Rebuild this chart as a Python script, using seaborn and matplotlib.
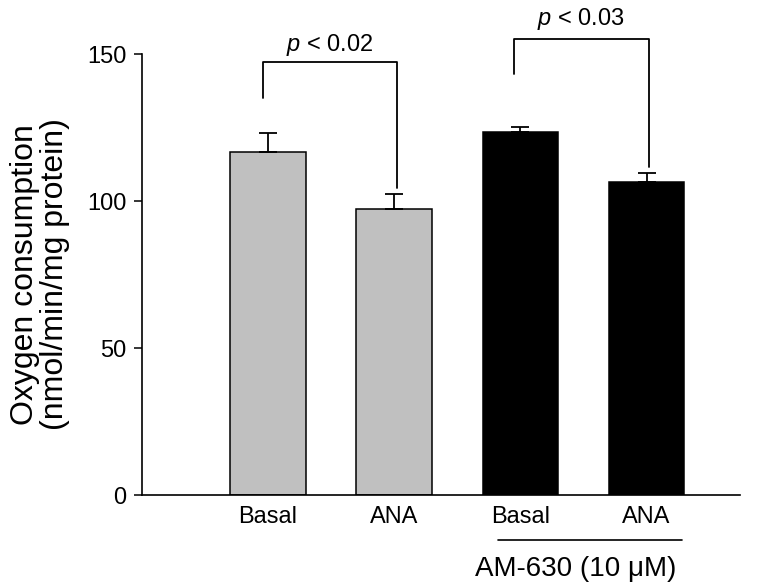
import matplotlib
matplotlib.use("Agg")
import matplotlib.pyplot as plt
import seaborn as sns
import pandas as pd

# ---- data ----
groups = ["Basal", "ANA", "Basal (AM-630)", "ANA (AM-630)"]
tick_labels = ["Basal", "ANA", "Basal", "ANA"]
means = [116.6, 97.4, 123.4, 106.5]
sems = [6.4, 5.0, 1.9, 2.9]
treatment = ["none", "none", "AM-630", "AM-630"]
y_ticks = [0, 50, 100, 150]
p_labels = ["0.02", "0.03"]

df = pd.DataFrame({"group": groups, "value": means, "treat": treatment})

sns.set_style("ticks")
plt.rcParams["font.family"] = ["Liberation Sans", "DejaVu Sans"]
plt.rcParams["mathtext.fontset"] = "custom"
plt.rcParams["mathtext.it"] = "Liberation Sans:italic"
plt.rcParams["mathtext.rm"] = "Liberation Sans"
for k in ["text.color", "axes.labelcolor", "xtick.color", "ytick.color"]:
    plt.rcParams[k] = "black"

fig = plt.figure(figsize=(7.77, 5.85), dpi=100)
ax = fig.add_axes([0.1824, 0.1538, 0.7700, 0.7538])

sns.barplot(data=df, x="group", y="value", hue="treat", order=groups,
            palette={"none": "#c0c0c0", "AM-630": "#000000"},
            dodge=False, width=0.6, errorbar=None, edgecolor="black",
            linewidth=1.1, legend=False, ax=ax)

ax.errorbar(range(len(groups)), means, yerr=[[0]*len(sems), sems], fmt="none",
            ecolor="black", elinewidth=1.3, capsize=6.5, capthick=1.3, zorder=3)

ax.set_ylim(0, 150)
ax.set_xlim(-1.0, 3.74)
ax.set_yticks(y_ticks)
ax.set_yticklabels([str(v) for v in y_ticks], fontsize=17)
ax.set_xticks(range(len(groups)))
ax.set_xticklabels(tick_labels, fontsize=17)
ax.tick_params(axis="x", length=0, pad=8)
ax.tick_params(axis="y", length=6, width=1.1, pad=5, direction="out")
sns.despine(ax=ax)
for s in ["left", "bottom"]:
    ax.spines[s].set_linewidth(1.2)
    ax.spines[s].set_color("black")
ax.set_xlabel("")
ax.set_ylabel("Oxygen consumption\n(nmol/min/mg protein)", fontsize=23,
              linespacing=1.0)
ax.yaxis.set_label_coords(-0.12, 0.5)

# significance brackets
def bracket(x0, x1, yl, yr, ytop, txt, tx, ty):
    ax.plot([x0, x0, x1, x1], [yl, ytop, ytop, yr], color="black", lw=1.3,
            clip_on=False)
    ax.text(tx, ty, r"$\it{p}$" + " < " + txt, ha="center", va="baseline",
            fontsize=17, clip_on=False)

bracket(-0.04, 1.02, 135.0, 104.4, 147.3, p_labels[0], 0.49, 151.0)
bracket(1.95, 3.02, 143.2, 111.7, 155.1, p_labels[1], 2.48, 160.0)

# group annotation
ax.plot([1.82, 3.28], [-15.4, -15.4], color="black", lw=1.2, clip_on=False)
ax.text(2.44, -20.8, "AM-630 (10 μM)", ha="center", va="top", fontsize=20,
        clip_on=False)

fig.savefig("out.png", dpi=100)
